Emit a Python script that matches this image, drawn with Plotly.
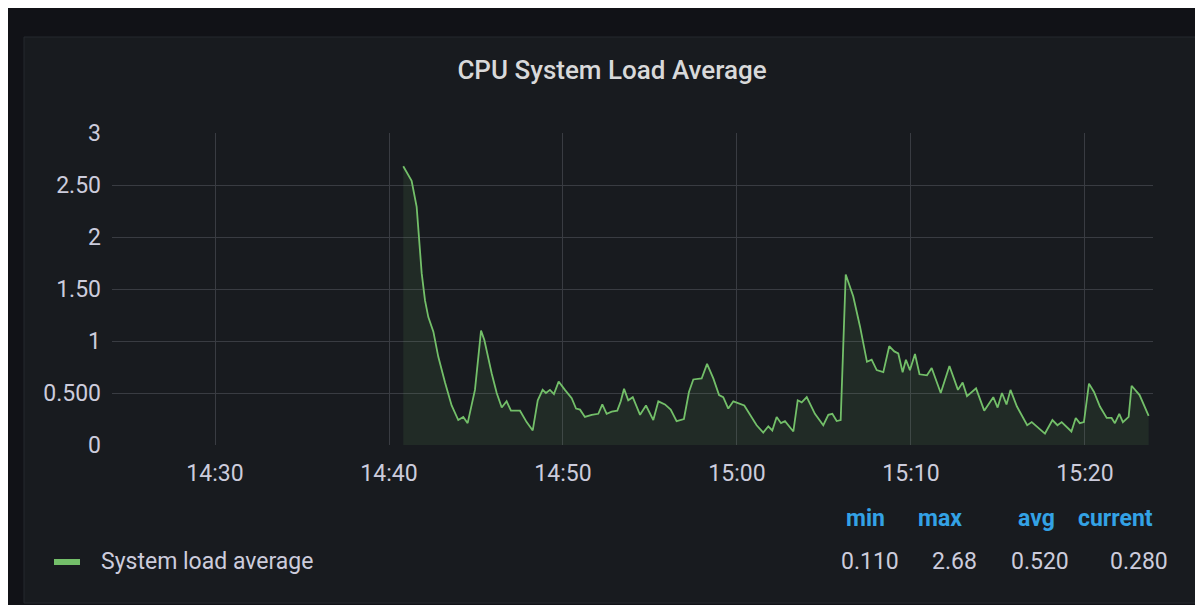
import plotly.graph_objects as go
import pandas as pd

# ---------------- data ----------------
minutes_after_1400 = [
    40.82, 41.30, 41.59, 41.72, 41.88, 42.07, 42.26, 42.55, 42.83, 43.22,
    43.60, 43.98, 44.27, 44.52, 44.94, 45.29, 45.48, 45.90, 46.19, 46.48,
    46.76, 47.01, 47.53, 47.91, 48.26, 48.55, 48.83, 49.02, 49.25, 49.48,
    49.75, 50.11, 50.50, 50.75, 50.98, 51.26, 51.65, 52.03, 52.26, 52.51,
    52.80, 53.12, 53.32, 53.51, 53.75, 54.01, 54.43, 54.77, 55.19, 55.48,
    55.86, 56.19, 56.53, 56.95, 57.24, 57.49, 57.97, 58.28, 58.64, 58.97,
    59.21, 59.50, 59.79, 60.42, 60.75, 61.13, 61.51, 61.80, 62.03, 62.28,
    62.53, 62.76, 63.24, 63.49, 63.72, 64.01, 64.48, 64.96, 65.25, 65.48,
    65.73, 65.96, 66.25, 66.44, 66.68, 67.07, 67.26, 67.47, 67.74, 68.03,
    68.41, 68.75, 69.04, 69.27, 69.52, 69.71, 69.94, 70.23, 70.49, 70.92,
    71.19, 71.71, 72.21, 72.70, 72.97, 73.22, 73.74, 74.21, 74.73, 74.98,
    75.23, 75.49, 75.72, 76.09, 76.68, 76.94, 77.70, 78.13, 78.42, 78.66,
    79.22, 79.47, 79.70, 79.94, 80.23, 80.52, 80.86, 81.25, 81.53, 81.72,
    81.97, 82.18, 82.51, 82.68, 83.14, 83.66,
]
load_avg = [
    2.68, 2.54, 2.29, 1.97, 1.65, 1.39, 1.23, 1.09, 0.85, 0.60,
    0.38, 0.24, 0.27, 0.21, 0.53, 1.10, 1.01, 0.69, 0.50, 0.36,
    0.42, 0.33, 0.33, 0.22, 0.14, 0.43, 0.53, 0.50, 0.53, 0.49,
    0.61, 0.53, 0.45, 0.35, 0.34, 0.27, 0.29, 0.30, 0.39, 0.30,
    0.32, 0.33, 0.42, 0.54, 0.43, 0.46, 0.29, 0.38, 0.24, 0.42,
    0.39, 0.34, 0.23, 0.25, 0.51, 0.63, 0.64, 0.78, 0.64, 0.48,
    0.46, 0.35, 0.42, 0.38, 0.29, 0.19, 0.12, 0.18, 0.14, 0.27,
    0.21, 0.23, 0.13, 0.43, 0.41, 0.46, 0.30, 0.19, 0.29, 0.30,
    0.23, 0.24, 1.64, 1.54, 1.43, 1.14, 0.98, 0.80, 0.82, 0.72,
    0.70, 0.95, 0.90, 0.88, 0.70, 0.82, 0.72, 0.875, 0.68, 0.67,
    0.74, 0.50, 0.76, 0.53, 0.60, 0.47, 0.545, 0.33, 0.46, 0.36,
    0.50, 0.39, 0.53, 0.37, 0.19, 0.22, 0.11, 0.24, 0.19, 0.22,
    0.13, 0.26, 0.21, 0.22, 0.59, 0.51, 0.37, 0.26, 0.26, 0.21,
    0.30, 0.22, 0.27, 0.57, 0.48, 0.28,
]
series_name = "System load average"
title_text = "CPU System Load Average"
y_tick_values = [0, 0.5, 1, 1.5, 2, 2.5, 3]
y_tick_labels = ["0", "0.500", "1", "1.50", "2", "2.50", "3"]
stat_names = ["min", "max", "avg", "current"]
stat_values = ["0.110", "2.68", "0.520", "0.280"]

# ---------------- geometry / style ----------------
OFF = 8                      # page body margin
FW, FH = 1203 - OFF, 605 - OFF
PL, PR, PT, PB = 112, 1153, 133, 445   # plot area in page pixels


def px(x):
    return (x - PL) / (PR - PL)


def py(y):
    return (PB - y) / (PB - PT)


base = pd.Timestamp("2021-06-01 14:00:00")
times = [base + pd.Timedelta(minutes=m) for m in minutes_after_1400]

GREEN = "#73bf69"
TXT = "#ccccdc"
GRID = "#393c42"
FONT = "Roboto"
FS = 23

fig = go.Figure()
fig.add_trace(go.Scatter(
    x=times, y=load_avg, mode="lines", name=series_name,
    line=dict(color=GREEN, width=1.8),
    fill="tozeroy", fillcolor="rgba(115,191,105,0.10)",
    showlegend=False,
))

shapes = [
    # panel
    dict(type="rect", xref="paper", yref="paper", layer="below",
         x0=px(24), x1=px(1200), y0=py(37), y1=py(603),
         fillcolor="#181b1f", line=dict(color="#25282e", width=1)),
    # legend swatch
    dict(type="rect", xref="paper", yref="paper", layer="above",
         x0=px(54), x1=px(80), y0=py(559), y1=py(565),
         fillcolor=GREEN, line=dict(width=0)),
]

annotations = [
    dict(text=series_name, xref="paper", yref="paper", x=px(99), y=py(561),
         xanchor="left", yanchor="middle", showarrow=False,
         font=dict(family=FONT, size=FS, color=TXT)),
]
head_centers = [865, 940, 1036, 1115]
val_rights = [900, 978, 1070, 1169]
for name, cx in zip(stat_names, head_centers):
    annotations.append(dict(
        text="<b>%s</b>" % name, xref="paper", yref="paper", x=px(cx), y=py(518),
        xanchor="center", yanchor="middle", showarrow=False,
        font=dict(family=FONT, size=FS, color="#33a2e5")))
for val, rx in zip(stat_values, val_rights):
    annotations.append(dict(
        text=val, xref="paper", yref="paper", x=px(rx + 1), y=py(561),
        xanchor="right", yanchor="middle", showarrow=False,
        font=dict(family=FONT, size=FS, color=TXT)))

fig.update_layout(
    width=FW, height=FH,
    margin=dict(l=PL - OFF, r=FW - (PR - OFF), t=PT - OFF, b=FH - (PB - OFF), pad=0),
    paper_bgcolor="#111217",
    plot_bgcolor="rgba(0,0,0,0)",
    font=dict(family=FONT, color=TXT, size=FS),
    title=dict(text=title_text, x=(612 - OFF) / FW, xref="container", xanchor="center",
               y=1 - (70 - OFF) / FH, yref="container", yanchor="middle",
               font=dict(family=FONT, size=26, color="#d8d9da", weight=500)),
    shapes=shapes,
    annotations=annotations,
    showlegend=False,
    xaxis=dict(
        type="date",
        range=[base + pd.Timedelta(minutes=24.08), base + pd.Timedelta(minutes=83.91)],
        tick0=base, dtick=600000, tickformat="%H:%M",
        showgrid=True, gridcolor=GRID, gridwidth=1,
        zeroline=False, showline=False, ticks="",
        ticklabelstandoff=12,
        tickfont=dict(family=FONT, size=FS, color=TXT),
    ),
    yaxis=dict(
        range=[0, 3],
        tickvals=y_tick_values, ticktext=y_tick_labels,
        showgrid=True, gridcolor=GRID, gridwidth=1,
        zeroline=False, showline=False, ticks="",
        ticklabelstandoff=10,
        tickfont=dict(family=FONT, size=FS, color=TXT),
    ),
)

fig.write_html("out.html")
